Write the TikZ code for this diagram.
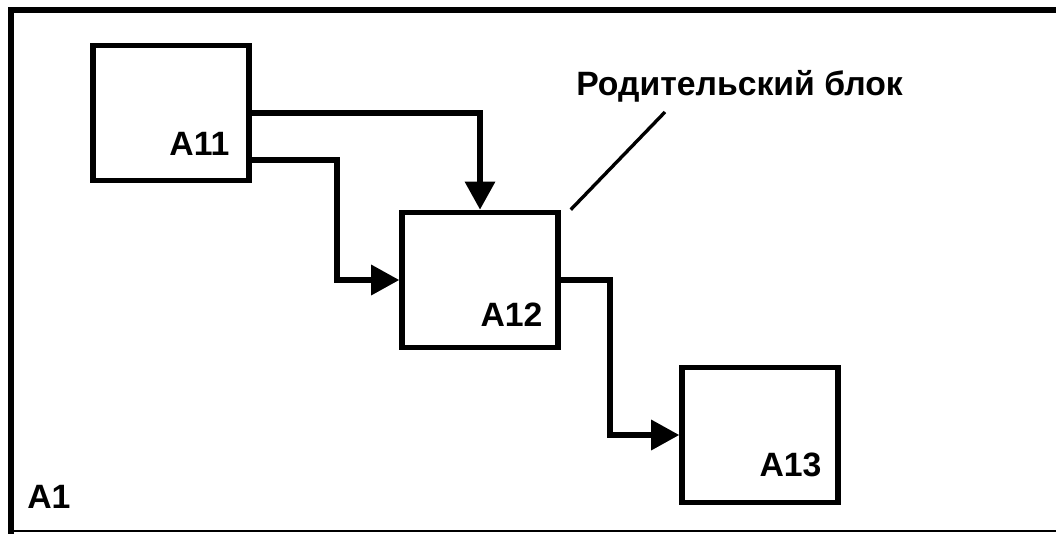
\documentclass[tikz,border=0pt]{standalone}
\usepackage{fontspec}
\setmainfont{Liberation Sans}
\usepackage{tikz}
\usetikzlibrary{arrows.meta,positioning,calc}

\begin{document}
\begin{tikzpicture}[
  x=0.025cm, y=-0.025cm,
  block/.style={draw, line width=3.9pt, minimum width=3.9cm, minimum height=3.38cm, inner sep=0pt},
  tag/.style={font=\bfseries\fontsize{24}{28}\selectfont, inner sep=0pt, anchor=base east},
  arrow/.style={-{Triangle[length=20pt, width=21pt]}, line width=3.6pt},
  frame/.style={line width=4.4pt}
]
\useasboundingbox (0,0) rectangle (1056,533);

% diagram frame, open on the right
\coordinate (f1) at (1056,10);
\coordinate (f2) at (11,10);
\coordinate (f3) at (11,531);
\coordinate (f4) at (1056,531);
\draw[frame, line cap=rect] (f1) -- (f2) -- (f3);
\draw[line width=1.6pt] (f3) -- (f4);

% blocks
\node[block] (A11) at (171,113) {};
\node[block] (A12) at (480,280) {};
\node[block] (A13) at (760,435) {};

\node[tag] (t11) at ([shift={(-22,-28)}]A11.south east) {A11};
\node[tag] (t12) at ([shift={(-18,-24)}]A12.south east) {A12};
\node[tag] (t13) at ([shift={(-19,-29)}]A13.south east) {A13};
\node[tag, anchor=base west] (t1) at (27,508) {A1};

% connections
\coordinate (j1) at (337,280);
\coordinate (j2) at (610,435);
\draw[arrow] (A11.east) -| (A12.north);
\draw[arrow] ([shift={(0,47)}]A11.east) -| (j1) -- (A12.west);
\draw[arrow] (A12.east) -| (j2) -- (A13.west);

% parent block callout
\node[tag, anchor=base west] (parent) at (576,95) {Родительский блок};
\coordinate (lead) at (665,112);
\draw[line width=2.4pt] ([shift={(10,0)}]A12.north east) -- (lead);
\end{tikzpicture}
\end{document}
